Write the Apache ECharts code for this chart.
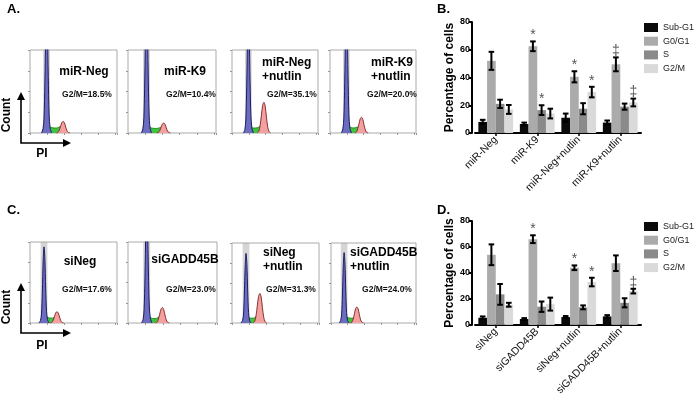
<!DOCTYPE html>
<html>
<head>
<meta charset="utf-8">
<script src="https://cdn.jsdelivr.net/npm/echarts@6/dist/echarts.min.js"></script>
<style>
html, body { margin: 0; padding: 0; background: #fff; }
#chart { width: 696px; height: 398px; }
</style>
</head>
<body>
<div id="chart"></div>
<script>
// flow histograms: [PI channel, count as % of box height]
const histNames = ['miR-Neg', 'miR-K9', 'miR-Neg\n+nutlin', 'miR-K9\n+nutlin',
  'siNeg', 'siGADD45B', 'siNeg\n+nutlin', 'siGADD45B\n+nutlin'];
const histG2M = ['G2/M=18.5%', 'G2/M=10.4%', 'G2/M=35.1%', 'G2/M=20.0%',
  'G2/M=17.6%', 'G2/M=23.0%', 'G2/M=31.3%', 'G2/M=24.0%'];
const histGate = [[155, 235], [175, 255], [155, 235], [155, 235], [125, 205], [175, 255], [125, 205], [118, 198]];
const histG1 = [
  [[135,0],[153,5],[165,18],[175,60],[185,123],[195,150],[205,128],[215,68],[225,22],[237,6],[255,0]],
  [[155,0],[173,5],[185,19],[195,64],[205,131],[215,160],[225,136],[235,72],[245,24],[257,6],[275,0]],
  [[135,0],[153,4],[165,17],[175,56],[185,115],[195,140],[205,119],[215,63],[225,21],[237,6],[255,0]],
  [[135,0],[153,5],[165,18],[175,60],[185,123],[195,150],[205,128],[215,68],[225,22],[237,6],[255,0]],
  [[105,0],[123,3],[135,11],[145,38],[155,77],[165,94],[175,80],[185,42],[195,14],[207,4],[225,0]],
  [[155,0],[173,4],[185,17],[195,56],[205,115],[215,140],[225,119],[235,63],[245,21],[257,6],[275,0]],
  [[105,0],[123,3],[135,10],[145,35],[155,71],[165,87],[175,74],[185,39],[195,13],[207,3],[225,0]],
  [[98,0],[116,3],[128,11],[138,35],[148,72],[158,88],[168,75],[178,40],[188,13],[200,3],[218,0]]
];
const histS = [
  [[225,8],[255,6.5],[285,6],[315,6],[340,7],[360,8]],
  [[245,7],[275,6],[305,5.5],[335,5.5],[360,6],[385,7]],
  [[225,7],[255,6],[285,6],[310,6.5],[330,8],[345,10]],
  [[225,8],[255,6.5],[285,6],[305,6.5],[325,7],[340,8]],
  [[195,8],[220,6.5],[245,6],[265,6],[280,7],[295,8]],
  [[245,7],[270,6],[295,5.5],[320,5.5],[340,6.5],[355,8]],
  [[195,7],[220,6],[245,6],[265,6.5],[280,8],[295,10]],
  [[188,8],[213,6.5],[238,6],[258,6],[273,7],[288,8]]
];
const histG2 = [
  [[310,0],[330,0.8],[345,3.5],[360,8.1],[375,12.6],[390,14],[405,12.3],[420,7.3],[435,2.8],[450,0.7],[470,0]],
  [[335,0],[355,0.7],[370,3],[385,7],[400,10.8],[415,12],[430,10.6],[445,6.2],[460,2.4],[475,0.6],[495,0]],
  [[300,0],[320,2.2],[335,9.3],[350,21.5],[365,33.3],[380,37],[395,32.6],[410,19.2],[425,7.4],[440,1.9],[460,0]],
  [[295,0],[315,1.1],[330,4.8],[345,11],[360,17.1],[375,19],[390,16.7],[405,9.9],[420,3.8],[435,1],[455,0]],
  [[238,0],[258,0.8],[273,3.5],[288,8.1],[303,12.6],[318,14],[333,12.3],[348,7.3],[363,2.8],[378,0.7],[398,0]],
  [[315,0],[335,1.1],[350,4.8],[365,11],[380,17.1],[395,19],[410,16.7],[425,9.9],[440,3.8],[455,1],[475,0]],
  [[248,0],[268,2.2],[283,9.3],[298,21.5],[313,33.3],[328,37],[343,32.6],[358,19.2],[373,7.4],[388,1.9],[408,0]],
  [[232,0],[252,1.2],[267,5],[282,11.6],[297,18],[312,20],[327,17.6],[342,10.4],[357,4],[372,1],[392,0]]
];

// bar charts: rows = phases, columns = categories
const phases = ['Sub-G1', 'G0/G1', 'S', 'G2/M'];
const catsB = ['miR-Neg', 'miR-K9', 'miR-Neg+nutlin', 'miR-K9+nutlin'];
const meanB = [[8, 6.5, 11, 7.5], [52, 62.5, 40.5, 49.5], [21, 16.5, 17.5, 19], [17, 14, 29.5, 22]];
const errB = [[1.5, 1, 3, 1.5], [6.5, 3.5, 4, 5], [3, 3.5, 4, 2.2], [3.2, 3.5, 3.8, 2.8]];
const markB = [['', '', '', ''], ['', '*', '*', '‡'], ['', '*', '', ''], ['', '', '*', '‡']];
const catsD = ['siNeg', 'siGADD45B', 'siNeg+nutlin', 'siGADD45B+nutlin'];
const meanD = [[5.5, 4.5, 6, 6.5], [54, 66, 44, 47.5], [23.5, 14, 13.5, 17], [15.5, 16, 33, 26]];
const errD = [[1, 0.7, 0.8, 1], [8, 3, 1.8, 6], [8, 4, 1.5, 3.5], [1.5, 5, 3.3, 1.8]];
const markD = [['', '', '', ''], ['', '*', '*', ''], ['', '', '', ''], ['', '', '*', '‡']];

const FONT = 'Liberation Sans, Arial, sans-serif';
const BAR_W = 8.7;
const barColors = ['#0a0a0a', '#ababab', '#8a8a8a', '#dadada'];

// histogram boxes [left, top, width, height]
const boxes = [
  [30, 50, 87, 83], [128, 50, 88, 83], [232, 50, 86, 83], [330, 50, 86, 83],
  [30, 242, 87, 81], [128, 242, 89, 81], [232, 243, 87, 80], [331, 243, 85, 80]
];
// title / G2M text placement
const titlePos = [
  [84, 72, 'center'], [185, 72, 'center'], [262, 56, 'left'], [371, 56, 'left'],
  [80, 262, 'center'], [185, 260, 'center'], [263, 246, 'left'], [350, 246, 'left']
];
const g2mPos = [[87, 95], [191, 95], [292, 95], [392, 95], [87, 290], [191, 290], [291, 290], [387, 290]];

let chart = echarts.init(document.getElementById('chart'));

let grids = [], xAxes = [], yAxes = [], series = [], graphics = [];

boxes.forEach((b, i) => {
  grids.push({ left: b[0], top: b[1], width: b[2], height: b[3], show: true,
    borderColor: '#aaa', borderWidth: 1, backgroundColor: '#fff' });
  xAxes.push({ gridIndex: i, type: 'value', min: 0, max: 1024, interval: 200,
    axisLine: { show: false }, axisLabel: { show: false }, splitLine: { show: false },
    axisTick: { show: true, length: 2, lineStyle: { color: '#999' } } });
  yAxes.push({ gridIndex: i, type: 'value', min: 0, max: 100, interval: 25,
    axisLine: { show: false }, axisLabel: { show: false }, splitLine: { show: false },
    axisTick: { show: true, length: 2, lineStyle: { color: '#999' } } });
  const common = { type: 'line', xAxisIndex: i, yAxisIndex: i, symbol: 'none', smooth: 0.3,
    clip: true, silent: true, animation: false };
  series.push(Object.assign({}, common, { name: 'g1-' + i, data: histG1[i], z: 3,
    lineStyle: { color: '#1c1c60', width: 1 }, areaStyle: { color: '#6c6cc0', opacity: 1 } }));
  series.push(Object.assign({}, common, { name: 's-' + i, data: histS[i], z: 2,
    lineStyle: { color: '#1f8f1f', width: 1 }, areaStyle: { color: '#3ec43e', opacity: 1 } }));
  // gate band drawn with the G2 series so that it sits over the G1 peak
  series.push(Object.assign({}, common, { name: 'g2-' + i, data: histG2[i], z: 3,
    lineStyle: { color: '#8a3030', width: 1 }, areaStyle: { color: '#f2a0a0', opacity: 1 },
    markArea: { silent: true, itemStyle: { color: 'rgba(150,150,150,0.4)' },
      data: [[{ xAxis: histGate[i][0] }, { xAxis: histGate[i][1] }]] } }));

  const tp = titlePos[i];
  graphics.push({ type: 'text', x: tp[0], y: tp[1], z: 10, style: {
    text: histNames[i], font: 'bold 12px ' + FONT, fill: '#000', align: tp[2],
    verticalAlign: tp[2] === 'left' ? 'top' : 'middle', lineHeight: 14 } });
  graphics.push({ type: 'text', x: g2mPos[i][0], y: g2mPos[i][1], z: 10, style: {
    text: histG2M[i], font: 'bold 8.5px ' + FONT, fill: '#111', align: 'center', verticalAlign: 'middle' } });
});

// bar chart grids (B = 8, D = 9)
function barPanel(idx, top, cats, means, errs, marks) {
  grids.push({ left: 475, top: top, width: 166, height: 111 });
  xAxes.push({ gridIndex: idx, type: 'category', data: cats,
    axisLine: { lineStyle: { color: '#000', width: 2 } },
    axisTick: { show: true, alignWithLabel: true, length: 3, lineStyle: { color: '#000', width: 1.5 } },
    axisLabel: { rotate: 45, fontSize: 10.5, fontFamily: FONT, color: '#111', margin: 5 } });
  yAxes.push({ gridIndex: idx, type: 'value', min: 0, max: 80, interval: 20, offset: 3,
    name: 'Percentage of cells', nameLocation: 'middle', nameGap: 11,
    nameTextStyle: { fontSize: 12, fontWeight: 'bold', fontFamily: FONT, color: '#000' },
    axisLine: { show: true, lineStyle: { color: '#000', width: 2 } },
    axisTick: { show: true, length: 3, lineStyle: { color: '#000', width: 2 } },
    axisLabel: { fontSize: 9, fontWeight: 'bold', fontFamily: FONT, color: '#000', margin: 2 },
    splitLine: { show: false } });
  phases.forEach((p, s) => {
    series.push({ type: 'bar', name: p, xAxisIndex: idx, yAxisIndex: idx, data: means[s],
      barWidth: BAR_W, barGap: '0%', itemStyle: { color: barColors[s] }, animation: false });
  });
  phases.forEach((p, s) => {
    series.push({
      type: 'custom', xAxisIndex: idx, yAxisIndex: idx, z: 5, silent: true, animation: false,
      data: means[s].map((m, c) => [c, m, errs[s][c]]),
      renderItem(params, api) {
        const c = api.value(0), m = api.value(1), e = api.value(2);
        const top = api.coord([c, m + e]);
        const bot = api.coord([c, m - e]);
        const x = top[0] + (s - 1.5) * BAR_W;
        const cap = 2.8;
        const st = { stroke: '#000', lineWidth: 2 };
        const kids = [
          { type: 'line', shape: { x1: x, y1: top[1], x2: x, y2: bot[1] }, style: st },
          { type: 'line', shape: { x1: x - cap, y1: top[1], x2: x + cap, y2: top[1] }, style: st },
          { type: 'line', shape: { x1: x - cap, y1: bot[1], x2: x + cap, y2: bot[1] }, style: st }
        ];
        const mk = marks[s][params.dataIndex];
        if (mk) {
          kids.push({ type: 'text', style: { text: mk, x: x, y: top[1] - 6, align: 'center',
            verticalAlign: 'middle', font: '14px ' + FONT, fill: '#555' } });
        }
        return { type: 'group', children: kids };
      }
    });
  });
}
barPanel(8, 22, catsB, meanB, errB, markB);
barPanel(9, 221, catsD, meanD, errD, markD);

// panel letters, axis arrows
function txt(t, x, y, font) {
  return { type: 'text', x: x, y: y, z: 10,
    style: { text: t, font: font, fill: '#000', align: 'left', verticalAlign: 'middle' } };
}
graphics.push(txt('A.', 7, 9, 'bold 13px ' + FONT));
graphics.push(txt('B.', 437, 9, 'bold 13px ' + FONT));
graphics.push(txt('C.', 7, 210, 'bold 13px ' + FONT));
graphics.push(txt('D.', 437, 210, 'bold 13px ' + FONT));

[[143, 92, 115, 154], [333, 283, 307, 346]].forEach(r => {
  const base = r[0], tip = r[1];
  graphics.push({ type: 'polyline', z: 10, shape: { points: [[21, tip + 6], [21, base], [65, base]] },
    style: { stroke: '#000', lineWidth: 1.6, fill: null } });
  graphics.push({ type: 'polygon', z: 10, shape: { points: [[21, tip], [17, tip + 8], [25, tip + 8]] },
    style: { fill: '#000' } });
  graphics.push({ type: 'polygon', z: 10, shape: { points: [[71, base], [63, base - 4], [63, base + 4]] },
    style: { fill: '#000' } });
  graphics.push({ type: 'text', x: 7, y: r[2], rotation: Math.PI / 2, z: 10,
    style: { text: 'Count', font: 'bold 12px ' + FONT, fill: '#000', align: 'center', verticalAlign: 'middle' } });
  graphics.push({ type: 'text', x: 42, y: r[3], z: 10,
    style: { text: 'PI', font: 'bold 12px ' + FONT, fill: '#000', align: 'center', verticalAlign: 'middle' } });
});

const legendBase = { data: phases, left: 644, orient: 'vertical', icon: 'rect', padding: 0,
  itemWidth: 14, itemHeight: 9, itemGap: 4.7, selectedMode: false,
  textStyle: { fontSize: 9, fontFamily: FONT, color: '#222' } };

chart.setOption({
  animation: false,
  textStyle: { fontFamily: FONT },
  grid: grids,
  xAxis: xAxes,
  yAxis: yAxes,
  legend: [Object.assign({ top: 23 }, legendBase), Object.assign({ top: 222 }, legendBase)],
  series: series,
  graphic: graphics
});
</script>
</body>
</html>
